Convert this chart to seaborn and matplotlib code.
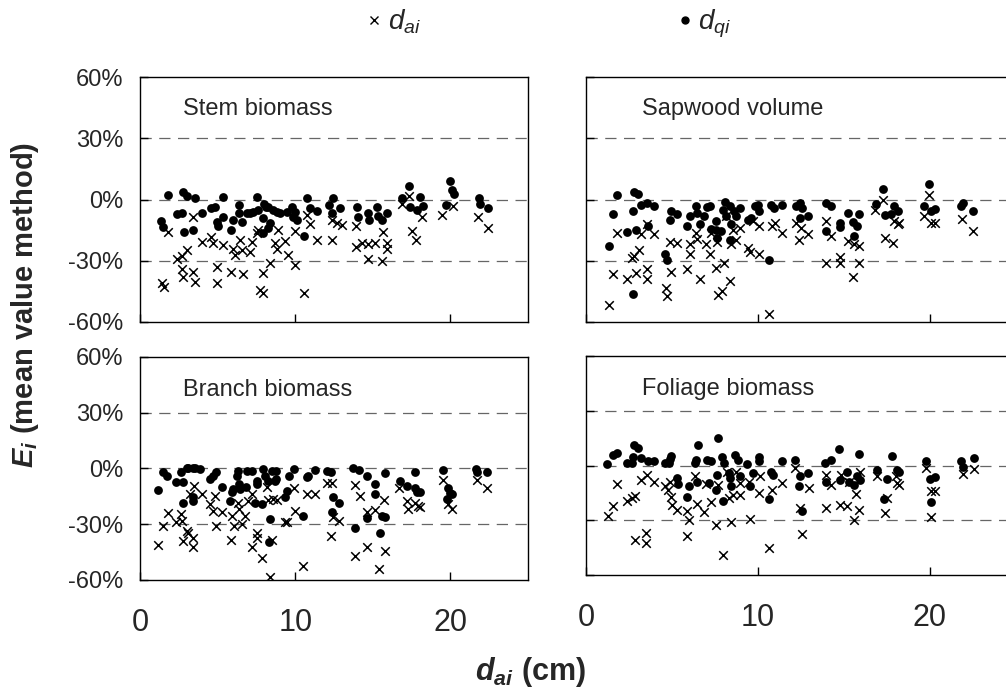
import matplotlib
matplotlib.use("Agg")
import matplotlib.pyplot as plt
from matplotlib import font_manager
from matplotlib.ticker import PercentFormatter
from matplotlib.lines import Line2D
import pandas as pd
import seaborn as sns

# ---- data (x = d_ai in cm, y = E_i in %) ----
stem_dai_x = [1.83, 1.40, 1.55, 2.36, 2.68, 3.01, 2.68, 2.79, 3.44, 3.54, 3.44, 3.97, 4.55, 4.73, 4.94, 4.94,
              5.33, 5.84, 6.01, 6.12, 6.44, 6.55, 6.66, 7.09, 7.19, 7.52, 7.62, 7.73, 7.95, 7.95, 8.38, 8.70,
              8.81, 8.91, 9.34, 9.56, 9.99, 9.99, 10.59, 10.74, 10.95, 11.38, 12.35, 12.35, 12.67, 12.99,
              13.92, 13.92, 14.28, 14.71, 15.14, 14.71, 15.57, 15.68, 15.89, 15.89, 16.86, 17.35, 17.50,
              17.78, 18.15, 19.44, 20.19, 21.80, 22.44]
stem_dai_y = [-16.1, -41.1, -42.7, -28.9, -27.7, -24.8, -34.1, -37.8, -35.4, -40.6, -8.5, -20.7, -18.3, -21.2,
              -33.3, -40.8, -22.3, -35.4, -24.0, -27.2, -19.9, -24.8, -36.5, -25.6, -20.7, -16.3, -14.7, -44.3,
              -45.6, -36.2, -31.0, -21.5, -24.0, -15.0, -20.2, -27.2, -32.1, -15.3, -45.6, -7.7, -12.1, -19.9,
              -19.9, -10.1, -11.7, -12.6, -13.0, -23.1, -21.5, -21.8, -21.5, -29.3, -30.0, -15.8, -21.5, -24.0,
              -2.0, 1.6, -15.5, -19.9, -8.5, -7.7, -3.3, -8.5, -14.2]
stem_dqi_x = [1.33, 1.50, 1.83, 2.36, 2.68, 2.75, 3.05, 2.86, 3.44, 3.54, 3.97, 4.55, 4.83, 4.94, 5.05, 5.33,
              5.33, 5.84, 6.01, 6.36, 6.40, 6.55, 6.87, 7.09, 7.30, 7.56, 7.62, 7.90, 7.99, 8.12, 8.23, 8.38,
              7.95, 8.27, 8.59, 8.85, 9.02, 9.45, 9.77, 9.88, 9.99, 10.09, 10.57, 10.78, 10.95, 11.38, 12.20,
              12.46, 12.35, 12.89, 13.96, 14.07, 14.71, 14.78, 15.25, 15.36, 15.57, 15.89, 16.86, 17.35,
              17.40, 17.83, 18.04, 18.21, 19.70, 19.97, 20.08, 20.23, 21.86, 21.91, 22.44]
stem_dqi_y = [-10.4, -13.4, 2.1, -7.2, -6.8, 3.7, 1.6, -16.1, -15.0, 0.8, -6.5, -4.2, -3.6, -10.9, -13.0, 1.0,
              -8.5, -15.0, -10.1, -2.6, -6.8, -10.9, -6.8, -6.8, -6.0, 1.3, -5.2, -9.3, -2.0, -3.6, -3.9, -11.7,
              -16.6, -14.2, -5.2, -6.0, -6.8, -6.0, -3.6, -8.5, -6.0, -10.1, -17.8, 0.5, -4.4, -5.7, -2.8, 0.5,
              -6.8, -4.1, -3.6, -8.5, -6.8, -10.1, -3.6, -8.0, -10.1, -6.8, 0.5, 6.5, -3.6, -5.2, 1.0, -3.3,
              -2.8, 9.0, 4.6, 2.9, 0.5, -2.3, -4.1]

sap_dai_x = [1.35, 1.59, 1.82, 2.40, 2.65, 2.79, 2.90, 3.09, 3.17, 3.52, 3.52, 3.56, 3.95, 4.64, 4.72, 4.87,
             4.97, 5.30, 5.88, 6.03, 6.07, 6.38, 6.46, 6.65, 6.96, 7.23, 7.29, 7.54, 7.62, 7.68, 7.93, 8.01,
             8.16, 8.39, 8.45, 8.55, 8.70, 8.94, 9.42, 9.56, 9.71, 10.06, 10.06, 10.64, 10.83, 10.97, 11.41,
             12.19, 12.38, 12.51, 12.90, 13.93, 13.97, 14.26, 14.74, 14.74, 15.22, 15.55, 15.61, 15.90, 15.90,
             16.83, 17.25, 17.41, 17.83, 17.93, 18.12, 18.22, 19.67, 19.96, 20.06, 20.31, 21.86, 22.51]
sap_dai_y = [-51.8, -36.7, -16.3, -38.8, -28.5, -27.7, -35.9, -24.5, -17.1, -34.2, -38.8, -12.2, -17.1, -43.2,
             -47.3, -20.9, -35.5, -21.5, -34.2, -22.0, -26.9, -16.3, -19.2, -38.8, -22.0, -26.9, -16.3, -33.4,
             -20.7, -46.9, -44.8, -31.0, -8.2, -39.8, -22.0, -14.7, -19.6, -13.9, -23.6, -25.8, -10.6, -13.0,
             -26.9, -56.2, -13.0, -11.4, -16.3, -11.4, -19.9, -13.9, -17.1, -10.6, -31.0, -17.9, -28.0, -31.3,
             -20.4, -38.1, -22.0, -22.8, -31.0, -4.9, 0.0, -18.7, -21.2, -10.6, -12.2, -11.7, -8.2, 2.0, -11.4,
             -11.4, -9.5, -15.5]
sap_dqi_x = [1.35, 1.59, 1.82, 2.40, 2.71, 2.79, 3.04, 2.90, 3.17, 3.52, 3.62, 3.95, 2.71, 4.58, 4.72, 4.87,
             4.97, 5.30, 5.88, 6.03, 6.38, 6.46, 6.62, 6.85, 7.04, 7.23, 7.29, 7.54, 7.58, 7.62, 7.87, 7.97,
             8.07, 8.16, 8.36, 8.45, 8.39, 8.59, 8.74, 8.94, 9.42, 9.61, 9.81, 10.00, 10.06, 10.64, 10.77,
             10.91, 11.41, 12.19, 12.46, 12.42, 12.57, 12.90, 13.93, 14.26, 13.97, 14.74, 14.78, 15.22, 15.61,
             15.55, 15.74, 15.86, 16.87, 17.29, 17.41, 17.74, 17.93, 18.12, 19.67, 19.96, 20.06, 20.31, 21.80,
             21.90, 22.51]
sap_dqi_y = [-22.8, -7.3, 2.4, -16.0, -5.4, 3.6, 2.9, -14.7, -2.9, -1.6, -13.0, -3.3, -46.1, -26.9, -29.7, -9.8,
             -5.7, -7.3, -13.0, -8.2, -3.3, -6.5, -12.2, -8.2, -3.6, -3.3, -14.3, -10.6, -14.7, -18.7, -15.5,
             -4.9, -1.3, -8.2, -3.3, -12.2, -19.6, -5.7, -8.2, -4.1, -10.1, -9.0, -3.3, -2.9, -5.7, -29.7, -2.9,
             -4.1, -2.9, -3.3, -1.6, -9.0, -4.1, -8.2, -1.6, -3.3, -15.5, -11.7, -13.4, -6.5, -17.9, -11.1,
             -13.0, -7.3, -2.4, 5.2, -7.8, -7.3, -3.3, -5.7, -3.3, 7.8, -5.7, -4.6, -3.3, -1.6, -5.7]

branch_dai_x = [1.18, 1.50, 1.83, 2.32, 2.62, 2.68, 2.75, 3.01, 3.11, 3.39, 3.44, 3.48, 3.22, 3.97, 4.51, 4.68,
                4.83, 4.90, 5.26, 5.84, 5.91, 6.06, 6.34, 6.40, 6.55, 6.77, 6.98, 7.19, 7.19, 7.52, 7.56, 7.84,
                8.16, 8.27, 8.38, 8.48, 8.59, 8.81, 9.34, 9.45, 9.92, 9.99, 10.52, 10.74, 11.28, 12.03, 12.35,
                12.29, 12.46, 12.84, 13.85, 13.85, 14.18, 14.60, 14.65, 15.14, 15.42, 15.74, 15.79, 16.71,
                17.18, 17.29, 17.72, 17.93, 18.04, 19.54, 19.87, 20.08, 21.69, 22.34]
branch_dai_y = [-41.2, -31.1, -24.0, -29.0, -24.5, -28.1, -38.8, -33.5, -34.7, -37.6, -42.4, -9.3, -13.8, -13.8,
                -19.2, -22.7, -14.7, -30.8, -23.6, -38.3, -25.4, -30.8, -18.3, -21.8, -29.9, -25.4, -17.4, -13.8,
                -42.4, -37.6, -34.7, -48.3, -10.2, -16.8, -58.5, -38.3, -16.5, -16.8, -28.6, -28.6, -10.7, -22.7,
                -52.6, -13.8, -13.8, -7.9, -7.9, -36.5, -26.3, -28.1, -9.0, -47.3, -15.0, -23.3, -42.4, -22.2,
                -54.1, -16.8, -44.2, -10.7, -17.4, -21.8, -18.3, -20.0, -20.9, -6.1, -19.2, -21.8, -6.1, -10.7]
branch_dqi_x = [1.18, 1.50, 1.76, 2.32, 2.62, 2.75, 3.01, 3.11, 3.39, 3.54, 3.87, 2.79, 3.39, 3.44, 4.51, 4.68,
                4.90, 5.26, 5.80, 5.91, 6.01, 6.23, 6.34, 6.40, 6.44, 6.83, 6.87, 7.19, 7.52, 7.56, 7.41, 7.84,
                7.95, 8.05, 8.27, 8.38, 8.33, 8.48, 8.76, 8.76, 8.70, 9.34, 9.45, 9.62, 9.92, 10.52, 10.74, 10.85,
                11.28, 12.03, 12.29, 12.35, 12.46, 12.84, 13.75, 13.85, 14.13, 14.60, 14.65, 15.14, 15.14, 15.46,
                15.57, 15.79, 15.79, 16.75, 17.18, 17.72, 17.72, 17.87, 18.04, 19.54, 19.87, 19.97, 20.08, 19.76,
                21.65, 21.69, 22.34]
branch_dqi_y = [-11.5, -2.1, -4.3, -7.5, -2.1, -7.5, 0.0, 0.0, 0.0, 0.0, -0.4, -18.6, -15.6, -17.4, -5.4, -3.9,
                -1.8, -10.2, -17.4, -12.9, -11.1, -3.9, -1.3, -8.4, -11.1, -10.2, -1.3, -1.3, -8.4, -6.6, -18.3,
                -19.2, -0.4, -4.3, -6.6, -27.2, -39.7, -1.3, -5.4, -1.3, -6.6, -15.6, -12.0, -4.3, -0.4, -25.8,
                -4.8, -3.9, -0.7, -1.3, -1.8, -23.3, -15.6, -18.3, 0.0, -32.2, -0.7, -3.9, -26.9, -8.4, -13.8,
                -34.7, -25.4, -26.3, -2.5, -6.6, -9.3, -2.1, -10.7, -12.9, -12.9, -0.7, -10.7, -13.2, -13.8, -16.5,
                -0.4, -2.1, -1.8]

fol_dai_x = [1.30, 1.55, 1.83, 2.41, 2.66, 2.85, 2.85, 3.18, 3.50, 3.50, 3.53, 3.96, 4.60, 4.74, 4.89, 4.93,
             4.99, 5.28, 5.90, 5.96, 5.90, 6.35, 6.45, 6.87, 6.99, 7.26, 7.57, 7.65, 7.96, 8.19, 8.29, 8.43,
             8.54, 8.74, 8.93, 8.93, 9.46, 9.55, 10.04, 10.10, 10.62, 10.82, 11.40, 12.17, 12.43, 12.56, 12.95,
             13.98, 13.98, 14.25, 14.76, 14.80, 15.18, 15.28, 15.61, 15.67, 15.86, 15.92, 16.89, 17.36, 17.48,
             18.00, 18.10, 18.19, 19.75, 20.04, 20.27, 20.04, 21.94, 22.56]
fol_dai_y = [-27.9, -22.1, -10.0, -19.2, -17.9, -16.6, -40.7, -7.8, -37.0, -42.5, -5.1, -9.3, -11.1, -13.3, -8.8,
             -17.0, -21.5, -24.3, -25.2, -30.1, -38.5, -6.0, -21.0, -25.7, -10.0, -20.2, -32.5, -10.6, -48.9,
             -3.3, -17.9, -31.2, -16.1, -3.3, -16.1, -9.7, -8.8, -29.4, -15.1, -6.0, -45.2, -13.3, -9.7, -1.5,
             -23.3, -37.4, -12.4, -5.1, -23.3, -10.6, -21.5, -5.1, -22.1, -8.8, -30.1, -15.5, -24.3, -3.3, -6.0,
             -26.1, -17.9, -6.0, -9.7, -10.6, -1.5, -14.2, -14.2, -28.3, -4.6, -2.0]
fol_dqi_x = [1.24, 1.55, 1.79, 2.37, 2.66, 2.76, 2.80, 3.05, 3.18, 3.63, 3.96, 4.60, 4.80, 4.93, 4.89, 5.28,
             5.32, 5.96, 5.90, 6.35, 6.41, 6.54, 6.45, 7.03, 7.26, 7.13, 7.61, 7.57, 7.65, 7.90, 7.96, 8.04,
             8.29, 8.35, 8.43, 8.68, 8.82, 8.93, 9.36, 9.51, 9.71, 10.04, 10.04, 10.62, 10.76, 10.87, 11.40,
             12.17, 12.43, 12.37, 12.56, 12.89, 13.92, 14.25, 13.98, 14.70, 14.76, 15.18, 15.28, 15.61, 15.73,
             15.86, 15.92, 16.89, 17.32, 17.48, 17.81, 18.06, 18.19, 19.75, 20.00, 20.27, 20.08, 21.79, 21.94,
             22.56]
fol_dqi_y = [0.9, 5.8, 7.1, 1.3, 1.3, 4.9, 11.3, 9.5, 4.0, 2.7, 2.7, 1.3, 1.3, 5.3, 3.5, -6.9, -10.0, -11.1,
             -17.0, 1.3, 3.1, 11.3, -8.8, 3.1, 2.7, -9.7, -5.1, -13.3, 15.0, 4.9, -19.7, 1.3, -4.2, -6.9, -11.5,
             5.8, 3.1, -6.0, 0.9, -11.5, -4.2, 4.6, 2.2, -18.4, -3.3, -5.1, 2.6, 3.1, -6.0, -11.5, -25.2, -4.2,
             1.3, 3.1, -8.8, 8.9, -7.8, -3.3, -8.8, -10.6, -6.0, 6.4, -7.8, -2.4, -18.4, -7.5, 5.3, -2.7, -3.3,
             2.6, -7.5, -6.4, -20.2, 2.6, -0.9, 4.0]

panel_names = ["Stem biomass", "Sapwood volume", "Branch biomass", "Foliage biomass"]
yticks = [-60, -30, 0, 30, 60]
xticks = [0, 10, 20]

sns.set_style("ticks")
plt.rcParams["font.family"] = ["Liberation Sans", "DejaVu Sans"]
plt.rcParams["axes.unicode_minus"] = False
plt.rcParams["mathtext.fontset"] = "custom"
plt.rcParams["mathtext.it"] = "Liberation Sans:italic"
plt.rcParams["mathtext.rm"] = "Liberation Sans"
plt.rcParams["mathtext.bf"] = "Liberation Sans:bold"
plt.rcParams["mathtext.bfit"] = "Liberation Sans:italic:bold"

installed = {f.name for f in font_manager.fontManager.ttflist}
narrow = "Liberation Sans Narrow" if "Liberation Sans Narrow" in installed else "Liberation Sans"

# long-form table
frames = []
for name, (ax_, ay_, qx_, qy_) in zip(panel_names, [
        (stem_dai_x, stem_dai_y, stem_dqi_x, stem_dqi_y),
        (sap_dai_x, sap_dai_y, sap_dqi_x, sap_dqi_y),
        (branch_dai_x, branch_dai_y, branch_dqi_x, branch_dqi_y),
        (fol_dai_x, fol_dai_y, fol_dqi_x, fol_dqi_y)]):
    frames.append(pd.DataFrame({"panel": name, "method": "dai", "d": ax_, "E": ay_}))
    frames.append(pd.DataFrame({"panel": name, "method": "dqi", "d": qx_, "E": qy_}))
df = pd.concat(frames, ignore_index=True)

fig = plt.figure(figsize=(10.06, 6.89), dpi=100)
W, H = 1006, 689
# pixel boxes: left, top, right, bottom
boxes = [(140, 77, 528, 322), (586, 77, 1016, 322),
         (140, 357, 528, 580), (586, 356, 1016, 575)]

for i, (name, (l, t, r, b)) in enumerate(zip(panel_names, boxes)):
    ax = fig.add_axes([l / W, 1 - b / H, (r - l) / W, (b - t) / H])
    sub = df[df.panel == name]
    for yv in [-30, 0, 30]:
        ax.axhline(yv, color="#666666", lw=0.9, ls=(0, (9, 6)), zorder=0)
    sns.scatterplot(data=sub[sub.method == "dai"], x="d", y="E", marker="x", color="black",
                    s=38, linewidth=1.1, ax=ax, zorder=2)
    sns.scatterplot(data=sub[sub.method == "dqi"], x="d", y="E", marker="o", color="black",
                    s=40, edgecolor="black", linewidth=0, ax=ax, zorder=3)
    ax.set_xlim(0, 25)
    ax.set_ylim(-60, 60)
    ax.set_xticks(xticks)
    ax.set_yticks(yticks)
    ax.yaxis.set_major_formatter(PercentFormatter(decimals=0))
    ax.tick_params(direction="in", length=6, width=1, color="black")
    ax.tick_params(axis="y", labelsize=17, pad=12)
    ax.tick_params(axis="x", labelsize=22, pad=20)
    for lab in ax.get_xticklabels():
        lab.set_family(narrow)
    ax.set_xlabel("")
    ax.set_ylabel("")
    if i < 2:
        ax.tick_params(axis="x", labelbottom=False)
    if i % 2 == 1:
        ax.tick_params(axis="y", labelleft=False)
    for sp in ax.spines.values():
        sp.set_color("black")
        sp.set_linewidth(1.0)
    ax.text(0.11 if i % 2 == 0 else 0.13, 0.87 if i < 2 else 0.85, name, transform=ax.transAxes,
            fontsize=17, va="center", ha="left")

# legend
handles = [Line2D([], [], marker="x", ls="", color="black", markersize=6, markeredgewidth=1.0),
           Line2D([], [], marker="o", ls="", color="black", markersize=5)]
fig.legend(handles, [r"$d_{ai}$", r"$d_{qi}$"], ncol=2, frameon=False, loc="center",
           bbox_to_anchor=(547 / W, 1 - 24 / H), fontsize=20, handletextpad=0.1,
           handlelength=0.8, columnspacing=9.1)

fig.text(25 / W, 1 - 305 / H, r"$\mathbfit{E}_{\mathbfit{i}}$ (mean value method)", rotation=90,
         fontsize=21, fontweight="bold", ha="center", va="center")
fig.text(530 / W, 1 - 672 / H, r"$\mathbfit{d}_{\mathbfit{ai}}$ (cm)", fontsize=22,
         fontweight="bold", ha="center", va="center", family=narrow)

fig.savefig("out.png", dpi=100)
